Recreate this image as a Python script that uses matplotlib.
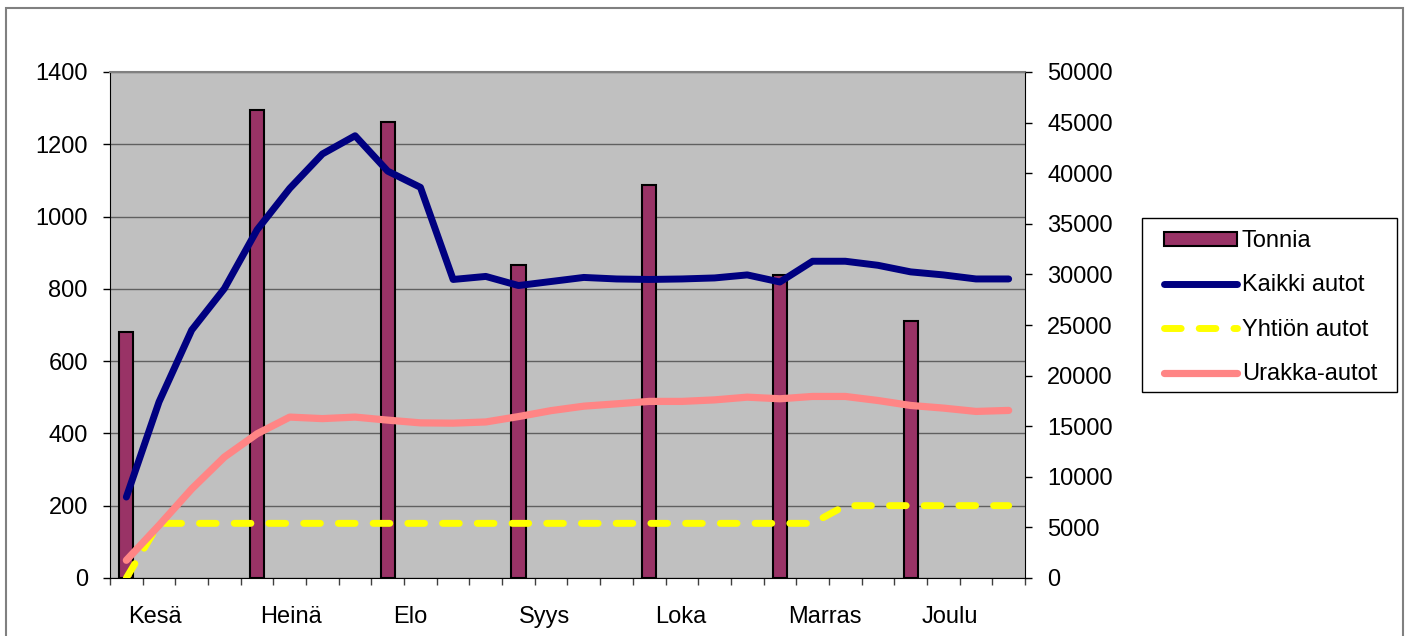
import matplotlib
matplotlib.use('Agg')
import matplotlib.pyplot as plt
from matplotlib.patches import Rectangle
import numpy as np

plt.rcParams['font.family'] = ['Liberation Sans', 'DejaVu Sans']

# weekly points, bars only on first week of each month
weeks = np.arange(28)
bar_weeks = [0, 4, 8, 12, 16, 20, 24]
tonnia = [680, 1295, 1263, 866, 1088, 837, 710]
kaikki = [8000, 17400, 24500, 28600, 34400, 38500, 41900, 43700, 40200, 38600,
          29500, 29800, 28900, 29300, 29700, 29550, 29500, 29550, 29650, 29950,
          29250, 31300, 31300, 30900, 30250, 29950, 29550, 29550]
yhtion = [0, 5400, 5400, 5400, 5400, 5400, 5400, 5400, 5400, 5400,
          5400, 5400, 5400, 5400, 5400, 5400, 5400, 5400, 5400, 5400,
          5400, 5400, 7150, 7150, 7150, 7150, 7150, 7150]
urakka = [1750, 5200, 8800, 11950, 14250, 15900, 15750, 15900, 15600, 15330,
          15300, 15420, 15950, 16540, 16980, 17210, 17450, 17450, 17600, 17870,
          17710, 17940, 17940, 17540, 17050, 16790, 16460, 16560]
months = ['Kesä', 'Heinä', 'Elo', 'Syys', 'Loka', 'Marras', 'Joulu']
month_pos = [0.88, 5.04, 8.70, 12.80, 16.97, 21.38, 25.20]

W, H = 1409, 636
fig = plt.figure(figsize=(W/100, H/100), dpi=100)
ax = fig.add_axes([110/W, 1-578/H, 915/W, 506/H])
ax.set_facecolor('#C0C0C0')

ax.bar(bar_weeks, tonnia, width=0.43, color='#993366', edgecolor='black',
       linewidth=1.5, label='Tonnia', zorder=2)
ax.set_ylim(0, 1400)
ax.set_yticks(np.arange(0, 1401, 200))
ax.set_xlim(-0.5, 27.5)
ax.set_axisbelow(True)
ax.yaxis.grid(True, color='#606060', linewidth=1)

ax.set_xticks(np.arange(-0.5, 28, 1))
ax.set_xticklabels([])
ax.tick_params(axis='x', length=5, width=1, color='#404040')
ax.tick_params(axis='y', length=5, width=1, labelsize=17, pad=11)
for m, p in zip(months, month_pos):
    ax.annotate(m, xy=(p, 0), xycoords=('data', 'axes fraction'),
                xytext=(0, -39), textcoords='offset pixels',
                ha='center', va='center', fontsize=17)

for s in ['left', 'bottom', 'right']:
    ax.spines[s].set_color('black')
ax.spines['top'].set_color('#808080')
ax.spines['top'].set_linewidth(1.5)

ax2 = ax.twinx()
ax2.set_ylim(0, 50000)
ax2.set_yticks(np.arange(0, 50001, 5000))
ax2.tick_params(axis='y', length=5, width=1, labelsize=17, pad=11)
for s in ax2.spines.values():
    s.set_visible(False)

l1, = ax2.plot(weeks, kaikki, color='#000080', linewidth=5,
               solid_capstyle='round', label='Kaikki autot')
l2, = ax2.plot(weeks, yhtion, color='#FFFF00', linewidth=5, dashes=(2.4, 2.6),
               dash_capstyle='round', label='Yhtiön autot')
l3, = ax2.plot(weeks, urakka, color='#FF8585', linewidth=5.2,
               solid_capstyle='round', label='Urakka-autot')

bars_handle = ax.patches[0]
leg = fig.legend([bars_handle, l1, l2, l3],
                 ['Tonnia', 'Kaikki autot', 'Yhtiön autot', 'Urakka-autot'],
                 loc='upper left', bbox_to_anchor=(1164/W, 1-230/H),
                 fontsize=17, frameon=False,
                 handlelength=3.1, handleheight=0.55, labelspacing=0.95,
                 borderpad=0, handletextpad=0.2, borderaxespad=0)

fig.patches.append(Rectangle((1142/W, 1-392/H), 255/W, 174/H,
                             transform=fig.transFigure, fill=False,
                             edgecolor='black', linewidth=1))
fig.patches.append(Rectangle((6/W, -0.05), 1397/W, 1-8/H+0.05,
                             transform=fig.transFigure, fill=False,
                             edgecolor='#808080', linewidth=1.5))

fig.savefig('out.png', dpi=100)
